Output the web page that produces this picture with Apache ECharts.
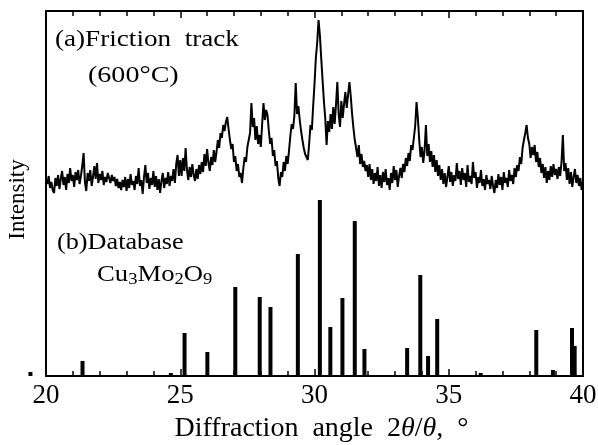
<!DOCTYPE html>
<html>
<head>
<meta charset="utf-8">
<script src="https://cdn.jsdelivr.net/npm/echarts@6/dist/echarts.min.js"></script>
<style>
html,body{margin:0;padding:0;background:#fff;}
#chart{width:598px;height:445px;}
</style>
</head>
<body>
<div id="chart"></div>
<script>
// ---- (a) measured pattern of the friction track (600 °C), scan from 20° with 0.05° step ----
var xrdStart = 20;
var xrdStep = 0.05;
var xrdIntensity = [
  196,192,200,188,194,186,183,198,190,201,
  187,197,205,191,199,186,202,193,208,195,
  201,189,204,196,206,192,200,210,223,194,
  185,203,195,206,190,199,210,197,213,193,
  202,196,205,191,199,194,203,198,193,201,
  195,199,190,197,188,194,186,196,189,199,
  185,197,188,202,191,195,186,200,192,208,
  190,196,182,199,211,193,203,187,198,191,
  205,189,200,186,197,183,195,203,188,198,
  192,204,190,200,195,207,193,212,221,200,
  216,200,218,205,228,206,196,209,199,212,
  201,195,207,197,211,202,214,204,222,210,
  227,213,205,219,211,226,214,224,236,228,
  243,238,251,245,254,259,247,236,227,232,
  214,220,205,212,199,203,193,208,219,214,
  229,236,243,273,249,258,236,250,232,241,
  229,252,273,256,266,261,245,232,238,220,
  226,210,215,198,190,204,199,214,205,220,
  212,225,240,252,247,260,293,262,270,256,
  245,236,228,222,219,216,232,251,246,270,
  292,318,333,356,341,318,296,275,258,231,
  255,244,262,247,269,252,271,294,262,249,
  275,258,272,284,268,281,294,280,262,248,
  236,228,219,231,212,222,209,215,205,211,
  199,212,196,207,192,203,195,209,190,201,
  188,204,194,207,191,198,186,203,193,210,
  196,206,189,200,208,198,212,204,218,210,
  223,215,231,226,238,250,274,258,236,219,
  229,213,226,251,220,232,214,225,209,221,
  204,216,200,211,196,207,192,203,189,199,
  210,194,204,190,201,195,213,197,205,191,
  208,196,203,189,211,194,200,192,214,198,
  204,188,199,193,206,190,197,186,201,192,
  196,187,200,190,183,196,188,202,191,199,
  186,204,193,198,189,206,195,201,192,208,
  199,211,205,219,212,228,236,243,251,238,
  232,218,229,221,231,214,224,209,218,203,
  212,198,209,193,205,196,210,199,212,201,
  207,197,209,200,214,241,205,213,196,208,
  192,204,189,199,207,193,201,190,198,186,
  194
];

// ---- (b) database lines of Cu3Mo2O9 ----
var dbAngle  = [19.42, 21.36, 24.65, 25.16, 26.01, 27.05, 27.96, 28.36, 29.38, 30.20, 30.59, 31.04, 31.50, 31.86, 33.45, 33.94, 34.23, 34.57, 36.19, 38.26, 38.88, 39.59, 39.69];
var dbHeight = [4, 15, 3, 43, 24, 89, 79, 69, 122, 176, 49, 78, 155, 27, 28, 101, 20, 57, 3, 46, 6, 48, 30];

// ---- axis ----
var xMin = 20, xMax = 40, xInterval = 5;
var yMin = 0, yMax = 365;

var xrdData = xrdIntensity.map(function (v, i) {
  return [+(xrdStart + i * xrdStep).toFixed(2), v];
});
var dbData = dbAngle.map(function (a, i) { return [a, dbHeight[i]]; });

var FONT = 'Liberation Serif';
var chart = echarts.init(document.getElementById('chart'));

var option = {
  animation: false,
  backgroundColor: '#fff',
  grid: {left: 46, right: 15, top: 11, bottom: 69, outerBoundsMode: 'none'},
  xAxis: [
    {
      type: 'value', min: xMin, max: xMax, interval: xInterval,
      axisLine: {show: true, onZero: false, lineStyle: {color: '#000', width: 2}},
      axisTick: {show: true, inside: true, length: 7, lineStyle: {color: '#000', width: 1.5}},
      minorTick: {show: true, splitNumber: 5, length: 5, lineStyle: {color: '#000', width: 1.5}},
      splitLine: {show: false},
      axisLabel: {show: true, color: '#000', fontFamily: FONT, fontSize: 27, margin: 6},
      name: 'Diffraction  angle  2{i|θ}/{i|θ},  °',
      nameLocation: 'middle', nameGap: 39,
      nameTextStyle: {
        color: '#000', fontFamily: FONT, fontSize: 28, padding: [0, 0, 0, 14],
        rich: {i: {fontStyle: 'italic', fontFamily: FONT, fontSize: 28, color: '#000'}}
      }
    },
    {
      type: 'value', min: xMin, max: xMax, interval: xInterval, position: 'top',
      axisLine: {show: true, onZero: false, lineStyle: {color: '#000', width: 2}},
      axisTick: {show: true, inside: true, length: 7, lineStyle: {color: '#000', width: 1.5}},
      minorTick: {show: true, splitNumber: 5, length: 5, lineStyle: {color: '#000', width: 1.5}},
      splitLine: {show: false},
      axisLabel: {show: false}
    }
  ],
  yAxis: [
    {
      type: 'value', min: yMin, max: yMax,
      axisLine: {show: true, onZero: false, lineStyle: {color: '#000', width: 2}},
      axisTick: {show: false}, axisLabel: {show: false}, splitLine: {show: false},
      name: 'Intensity', nameLocation: 'middle', nameRotate: 90, nameGap: 17,
      nameTextStyle: {color: '#000', fontFamily: FONT, fontSize: 23, padding: [0, 0, 0, -12]}
    },
    {
      type: 'value', min: yMin, max: yMax, position: 'right',
      axisLine: {show: true, onZero: false, lineStyle: {color: '#000', width: 2}},
      axisTick: {show: false}, axisLabel: {show: false}, splitLine: {show: false}
    }
  ],
  series: [
    {
      type: 'line', xAxisIndex: 0, yAxisIndex: 0,
      data: xrdData, showSymbol: false, symbol: 'none',
      lineStyle: {color: '#000', width: 2}
    },
    {
      type: 'custom', xAxisIndex: 0, yAxisIndex: 0, clip: false,
      data: dbData,
      renderItem: function (params, api) {
        var p0 = api.coord([api.value(0), 0]);
        var p1 = api.coord([api.value(0), api.value(1)]);
        var w = 4;
        return {
          type: 'rect',
          shape: {x: p0[0] - w / 2, y: p1[1], width: w, height: p0[1] - p1[1]},
          style: {fill: '#000'}
        };
      }
    }
  ],
  graphic: [
    {type: 'text', x: 55, y: 40, scaleX: 1.18,
     style: {text: '(a)Friction  track', x: 0, y: 0, textAlign: 'left', textVerticalAlign: 'middle', font: '23px "Liberation Serif"', fill: '#000'}},
    {type: 'text', x: 88, y: 76, scaleX: 1.22,
     style: {text: '(600°C)', x: 0, y: 0, textAlign: 'left', textVerticalAlign: 'middle', font: '23px "Liberation Serif"', fill: '#000'}},
    {type: 'text', x: 57, y: 243, scaleX: 1.14,
     style: {text: '(b)Database', x: 0, y: 0, textAlign: 'left', textVerticalAlign: 'middle', font: '23px "Liberation Serif"', fill: '#000'}},
    {type: 'text', x: 97, y: 275, scaleX: 1.16,
     style: {
       text: '{m|Cu}{s|3}{m|Mo}{s|2}{m|O}{s|9}', x: 0, y: 0, textAlign: 'left', textVerticalAlign: 'middle',
       font: '23px "Liberation Serif"', fill: '#000',
       rich: {
         m: {fontFamily: FONT, fontSize: 23, lineHeight: 26, verticalAlign: 'middle', fill: '#000'},
         s: {fontFamily: FONT, fontSize: 16, lineHeight: 16, verticalAlign: 'bottom', fill: '#000'}
       }
     }}
  ]
};
chart.setOption(option);
</script>
</body>
</html>
